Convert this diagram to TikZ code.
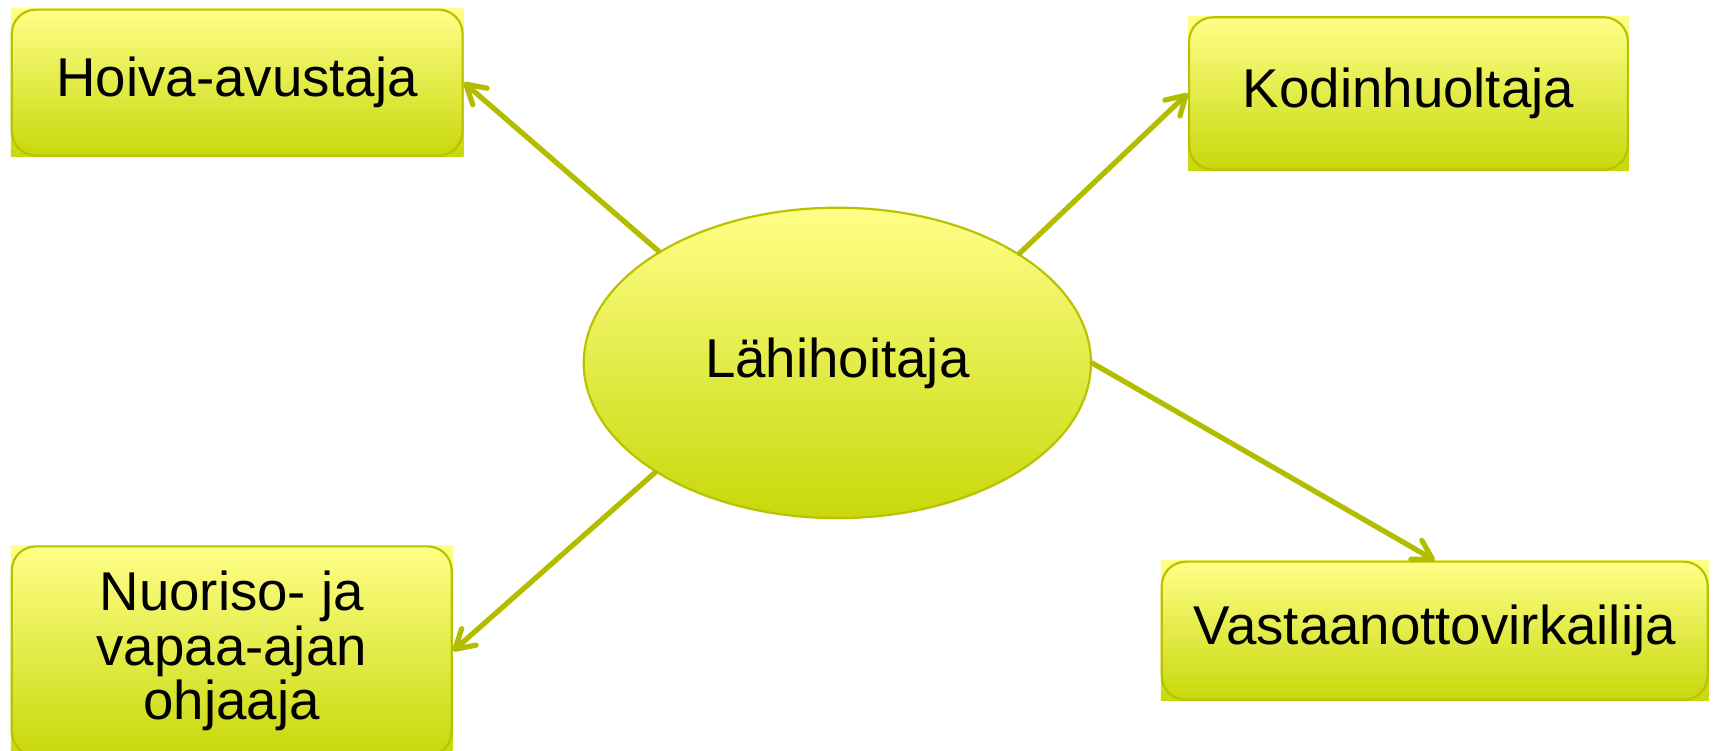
\documentclass[tikz,border=0pt]{standalone}
\usepackage{fontspec}
\setmainfont{Liberation Sans}
\usetikzlibrary{shapes.geometric,arrows.meta}
\definecolor{ytop}{HTML}{FFFF88}
\definecolor{ybot}{HTML}{C8D80A}
\definecolor{bordc}{HTML}{B9C200}
\definecolor{arrc}{HTML}{B3BD00}
\tikzset{
  boxnode/.style={rectangle, inner sep=0pt, top color=ytop, bottom color=ybot,
    font=\fontsize{25}{25}\selectfont, align=center},
  boxborder/.style={draw=bordc, line width=1pt, rounded corners=11pt},
  ellnode/.style={ellipse, inner sep=0pt, top color=ytop, bottom color=ybot,
    draw=bordc, line width=1pt, font=\fontsize{25}{25}\selectfont},
  link/.style={draw=arrc, line width=2.4pt, line cap=round,
    -{Straight Barb[length=8.5pt,width=10pt,line width=2.4pt,round]}}
}
\begin{document}
\begin{tikzpicture}[x=0.5pt,y=-0.5pt]
\useasboundingbox (0,0) rectangle (1568,687);
\node[ellnode, minimum width=232pt, minimum height=142pt] (ell) at (766,332) {Lähihoitaja};
\node[boxnode, minimum width=207pt, minimum height=67.5pt] (hoiva) at (217,75.5) {Hoiva-avustaja};
\node[boxnode, minimum width=201.5pt, minimum height=70.5pt] (kodin) at (1288.5,85.5) {Kodinhuoltaja};
\node[boxnode, minimum width=250.5pt, minimum height=64pt] (vast) at (1312.5,577) {Vastaanottovirkailija};
\node[boxnode, minimum width=202pt, minimum height=96.5pt] (nuor) at (212,595.5) {Nuoriso- ja\\vapaa-ajan\\ohjaaja};
\foreach \n in {hoiva,kodin,vast,nuor}
  \draw[boxborder] ([shift={(0.6pt,0.6pt)}]\n.south west) rectangle ([shift={(-0.6pt,-0.6pt)}]\n.north east);
\draw[link] (ell.148) -- (hoiva.east);
\draw[link] (ell.31.4) -- (kodin.west);
\draw[link] (ell.east) -- (vast.north);
\draw[link] (ell.211.5) -- (nuor.east);
\end{tikzpicture}
\end{document}
